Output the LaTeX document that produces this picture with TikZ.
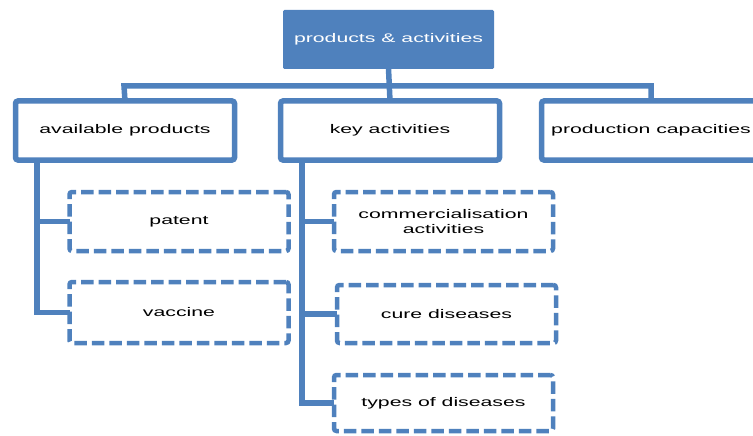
\documentclass[tikz,border=0pt]{standalone}
\usepackage{fontspec}
\setmainfont{Liberation Sans}[FakeStretch=1.7]
\usetikzlibrary{calc}
\definecolor{obl}{HTML}{4F81BD}
\begin{document}
\begin{tikzpicture}[x=1pt,y=-1pt,
  every node/.style={font=\fontsize{12.5}{15}\selectfont, align=center, inner sep=0pt, outer sep=0pt},
  topbox/.style={fill=obl, draw=obl, line width=1pt, text=white, minimum width=210, minimum height=58, rounded corners=1},
  lvlbox/.style={fill=white, draw=obl, line width=5.5pt, rounded corners=2.5, minimum width=219, minimum height=59},
  subbox/.style={fill=white, draw=obl, line width=4.5pt, dash pattern=on 12.5pt off 5pt, rounded corners=2.5, minimum width=219, minimum height=59},
  conn/.style={draw=obl, line width=5.5pt, line cap=butt}
]
\useasboundingbox (0,0) rectangle (753,436);
\clip (0,0) rectangle (753,436);

% connectors first (behind boxes)
\coordinate (busL) at (124,86);
\coordinate (busR) at (651,86);
\coordinate (tl1) at (37,160);
\coordinate (tl2) at (37,221.5);
\coordinate (tl3) at (37,312.5);
\coordinate (tk1) at (302,160);
\coordinate (tk2) at (302,221.5);
\coordinate (tk3) at (302,314);
\coordinate (tk4) at (302,403);

\node[lvlbox] (avail) at (125,130.5) {available products};
\node[lvlbox] (key) at (390,130.5) {key activities};
\node[lvlbox] (prod) at (651,130.5) {production capacities};
\node[topbox] (top) at (388.5,39.5) {products \& activities};

\node[subbox] (patent) at (179,221.5) {patent};
\node[subbox, minimum height=61] (vaccine) at (179,312.5) {vaccine};
\node[subbox] (comm) at (443.5,221.5) {commercialisation\\activities};
\node[subbox, minimum height=58] (cure) at (446.5,314) {cure diseases};
\node[subbox, minimum height=56] (types) at (443.5,403) {types of diseases};

\begin{scope}[on background layer/.style={}]
\end{scope}

\draw[conn] (top.south) -- (key.north);
\draw[conn, line join=miter] (avail.north) -- (busL) -- (busR) -- (prod.north);
\draw[conn, line join=miter] (avail.south -| tl1) -- (tl3) -- (vaccine.west);
\draw[conn] (tl2) -- (patent.west);
\draw[conn, line join=miter] (key.south -| tk1) -- (tk4) -- (types.west);
\draw[conn] (tk2) -- (comm.west);
\draw[conn] (tk3) -- (cure.west);
\end{tikzpicture}
\end{document}
